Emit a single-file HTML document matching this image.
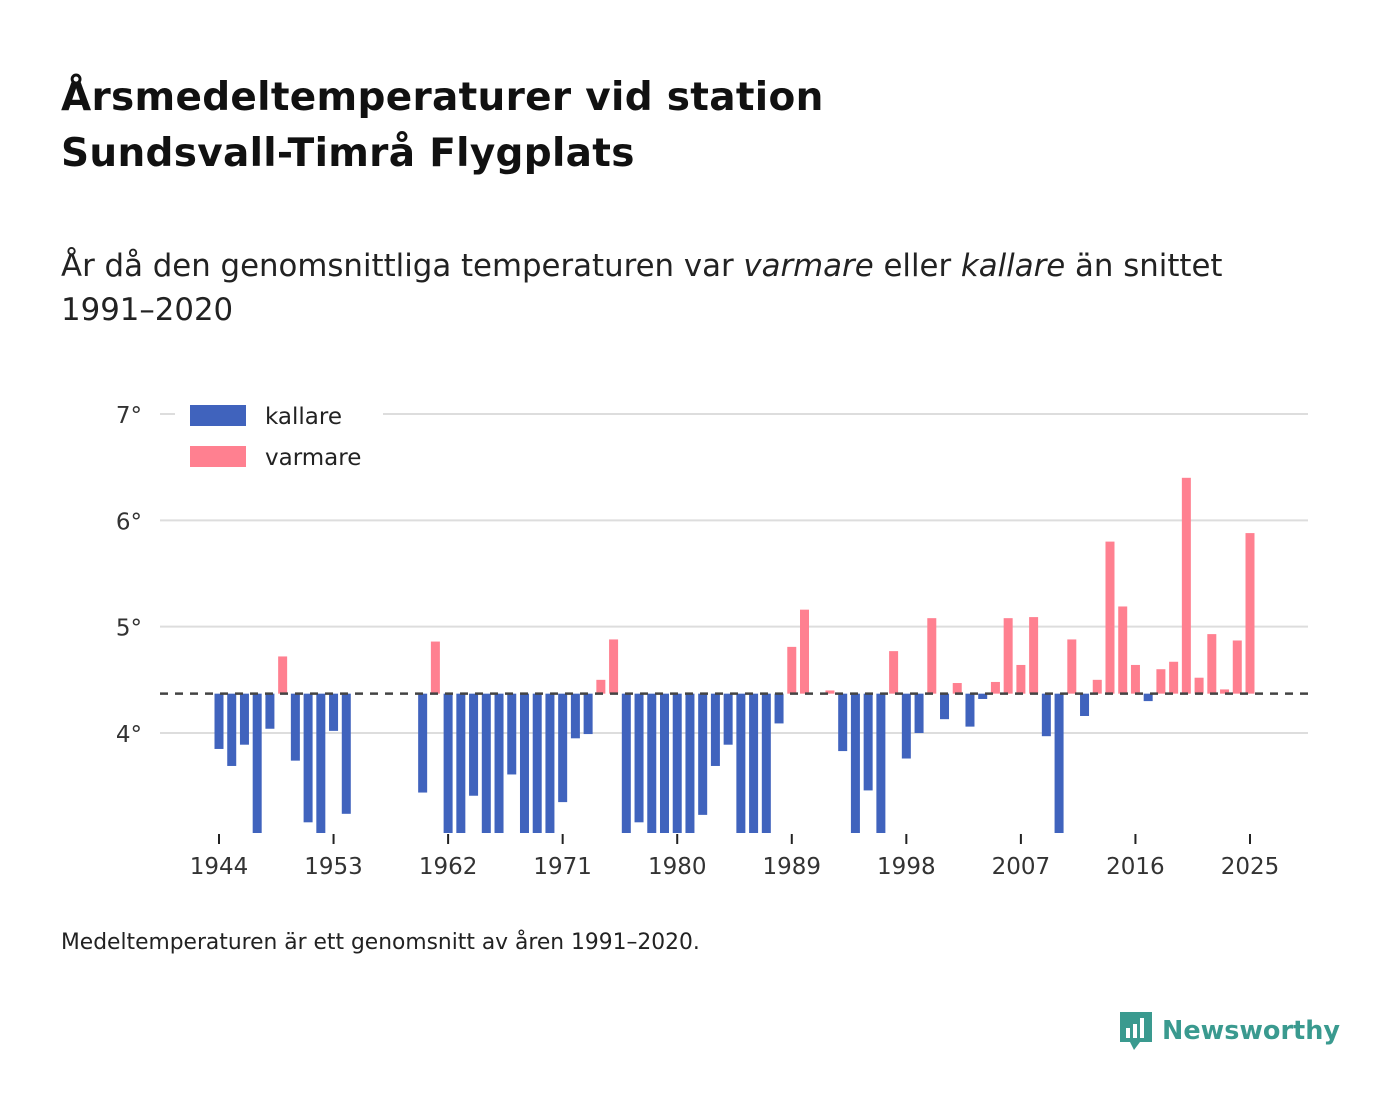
<!DOCTYPE html>
<html><head><meta charset="utf-8"><style>
body{margin:0;background:#fff;width:1400px;height:1116px;overflow:hidden;font-family:"DejaVu Sans",sans-serif;color:#111}
h1{position:absolute;left:61px;top:70px;margin:0;font-size:39px;line-height:56px;font-weight:bold;color:#111;letter-spacing:0.3px}
.sub{position:absolute;left:61px;top:244px;font-size:30.8px;line-height:44px;color:#222}
.note{position:absolute;left:61px;top:930px;font-size:21.8px;color:#222}
.logo{position:absolute;left:1118px;top:1010px;font-size:25.5px;font-weight:bold;color:#3a9a8f;display:flex;align-items:center;gap:8px}
</style></head><body>
<h1>Årsmedeltemperaturer vid station<br>Sundsvall-Timrå Flygplats</h1>
<div class="sub">År då den genomsnittliga temperaturen var <i>varmare</i> eller <i>kallare</i> än snittet<br>1991–2020</div>
<svg id="chart" width="1400" height="1116" style="position:absolute;left:0;top:0" font-family="DejaVu Sans, sans-serif"></svg>
<div class="note">Medeltemperaturen är ett genomsnitt av åren 1991–2020.</div>
<div class="logo"><svg width="36" height="42" viewBox="0 0 36 42"><path d="M2 2h32v30H22l-6 8-4-8H2z" fill="#3a9a8f"/><rect x="8" y="18" width="4" height="10" fill="#fff"/><rect x="15" y="14" width="4" height="14" fill="#fff"/><rect x="22" y="8" width="4" height="20" fill="#fff"/></svg><span>Newsworthy</span></div>
<script>
const years=[1944,1945,1946,1947,1948,1949,1950,1951,1952,1953,1954,1960,1961,1962,1963,1964,1965,1966,1967,1968,1969,1970,1971,1972,1973,1974,1975,1976,1977,1978,1979,1980,1981,1982,1983,1984,1985,1986,1987,1988,1989,1990,1992,1993,1994,1995,1996,1997,1998,1999,2000,2001,2002,2003,2004,2005,2006,2007,2008,2009,2010,2011,2012,2013,2014,2015,2016,2017,2018,2019,2020,2021,2022,2023,2024,2025];
const temps=[3.85,3.69,3.89,2.8,4.04,4.72,3.74,3.16,2.8,4.02,3.24,3.44,4.86,2.8,2.8,3.41,2.8,2.8,3.61,2.8,2.8,2.8,3.35,3.95,3.99,4.50,4.88,2.8,3.16,2.8,2.8,2.8,2.8,3.23,3.69,3.89,2.8,2.8,2.8,4.09,4.81,5.16,4.40,3.83,2.8,3.46,2.8,4.77,3.76,4.00,5.08,4.13,4.47,4.06,4.32,4.48,5.08,4.64,5.09,3.97,2.8,4.88,4.16,4.50,5.80,5.19,4.64,4.30,4.60,4.67,6.40,4.52,4.93,4.41,4.87,5.88];
const avg=4.37;
const yTicks=[4,5,6,7];
const xTicks=[1944,1953,1962,1971,1980,1989,1998,2007,2016,2025];
const svg=document.getElementById('chart');const NS='http://www.w3.org/2000/svg';
const X=y=>219+(y-1944)*(1250-219)/81;
const Y=v=>733-(v-4)*106.33;
function el(t,a){const e=document.createElementNS(NS,t);for(const k in a)e.setAttribute(k,a[k]);svg.appendChild(e);return e;}
yTicks.forEach(v=>{const l=el('line',{x1:160,x2:1308,y1:Y(v),y2:Y(v),stroke:'#ddd','stroke-width':2});


const t=el('text',{x:142,y:Y(v)+9,'text-anchor':'end','font-size':23,fill:'#333'});t.textContent=v+'°';

});
const defs=el('defs',{});const cp=document.createElementNS(NS,'clipPath');cp.setAttribute('id','c');defs.appendChild(cp);
const r=document.createElementNS(NS,'rect');r.setAttribute('x',0);r.setAttribute('y',300);r.setAttribute('width',1400);r.setAttribute('height',533);cp.appendChild(r);
const g=el('g',{'clip-path':'url(#c)'});
years.forEach((yr,i)=>{const v=temps[i];const y0=Y(avg),y1=Y(v);const b=document.createElementNS(NS,'rect');
b.setAttribute('x',X(yr)-4.5);b.setAttribute('width',9);b.setAttribute('y',Math.min(y0,y1));b.setAttribute('height',Math.abs(y1-y0));
b.setAttribute('fill',v>=avg?'#ff8090':'#4063bd');


g.appendChild(b);});
const d=el('line',{x1:160,x2:1308,y1:Y(avg),y2:Y(avg),stroke:'#444','stroke-width':2.5,'stroke-dasharray':'8,7'});


xTicks.forEach(yr=>{const l=el('line',{x1:X(yr),x2:X(yr),y1:834,y2:844,stroke:'#222','stroke-width':2});


const t=el('text',{x:X(yr),y:874,'text-anchor':'middle','font-size':23,fill:'#333'});t.textContent=yr;

});
el('rect',{x:175,y:395,width:208,height:85,fill:'#fff'});
[['kallare','#4063bd',405],['varmare','#ff8090',446]].forEach(([n,c,y])=>{const s=el('rect',{x:190,y:y,width:56,height:21,fill:c});


const t=el('text',{x:265,y:y+19,'font-size':23,fill:'#222'});t.textContent=n;

});
</script>
</body></html>
